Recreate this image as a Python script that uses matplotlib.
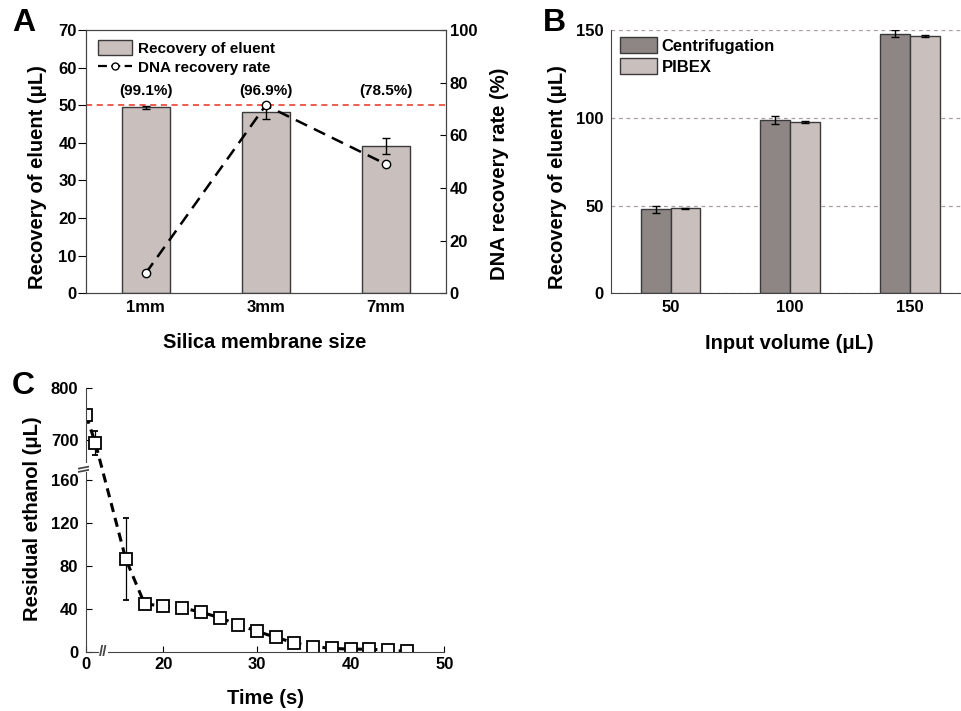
import numpy as np
import matplotlib
matplotlib.use("Agg")
import matplotlib.pyplot as plt
from matplotlib.lines import Line2D
from matplotlib.patches import Patch
from matplotlib.transforms import blended_transform_factory

plt.rcParams['font.family'] = ['Liberation Sans', 'DejaVu Sans']
plt.rcParams['font.weight'] = 'bold'
plt.rcParams['axes.labelweight'] = 'bold'
plt.rcParams['axes.edgecolor'] = '#444444'

# --- panel A: silica membrane size ---
sizes = ['1mm', '3mm', '7mm']
eluent_a = [49.4, 48.3, 39.2]
eluent_a_err = [0.3, 1.9, 2.1]
dna_rate = [7.6, 71.4, 49.1]
rate_labels = ['(99.1%)', '(96.9%)', '(78.5%)']
target_volume = 50

# --- panel B: input volume ---
input_volumes = ['50', '100', '150']
centrifugation = [48.0, 98.8, 147.9]
centrifugation_err = [2.0, 2.4, 2.0]
pibex = [48.5, 97.7, 146.4]
pibex_err = [0.3, 0.7, 0.6]

# --- panel C: residual ethanol over time ---
time_s = [0, 1, 16, 18, 20, 22, 24, 26, 28, 30, 32, 34, 36, 38, 40, 42, 44, 46]
ethanol = [748, 694, 86, 44.6, 42.3, 40.8, 36.9, 31.7, 25.0, 19.1, 13.3, 8.3,
           4.8, 3.1, 2.4, 2.3, 1.5, 0.4]
ethanol_err = [6, 24, 38, 2, 2, 1.5, 1.5, 1.5, 1.5, 1.5, 1.5, 1, 1.5, 1, 1,
               0.8, 0.6, 0.3]

BAR_LIGHT = '#C9C0BD'
BAR_DARK = '#8D8685'
EDGE = '#3a3a3a'

fig = plt.figure(figsize=(9.62, 7.11), dpi=100)

# ---------------- panel A ----------------
ax = fig.add_axes([0.0891, 0.5875, 0.3742, 0.3703])
x = np.arange(len(sizes))
ax.bar(x, eluent_a, width=0.4, color=BAR_LIGHT, edgecolor=EDGE, lw=1,
       yerr=eluent_a_err, capsize=3,
       error_kw=dict(elinewidth=1, ecolor='black', capthick=1), zorder=2)
ax.axhline(target_volume, color='#E8311F', ls=(0, (4, 3)), lw=1.1, zorder=1)
for i, lab in enumerate(rate_labels):
    ax.text(x[i], 53.9, lab, ha='center', va='center', fontsize=11)
ax.set_xlim(-0.5, 2.5)
ax.set_ylim(0, 70)
ax.set_yticks(range(0, 71, 10))
ax.set_xticks(x)
ax.set_xticklabels(sizes)
ax.tick_params(axis='y', direction='out', length=5.5, pad=1, labelsize=12)
ax.tick_params(axis='x', length=0, pad=5, labelsize=12)
ax.set_ylabel('Recovery of eluent (μL)', fontsize=14.5)
ax.yaxis.set_label_coords(-0.107, 0.443)
ax.set_xlabel('Silica membrane size', fontsize=14.5)
ax.xaxis.set_label_coords(0.498, -0.151)

ax2 = ax.twinx()
ax2.plot(x, dna_rate, color='black', ls=(0, (5, 3)), lw=1.8, marker='o',
         ms=6, mfc='white', mec='black', mew=1)
ax2.set_ylim(0, 100)
ax2.set_yticks(range(0, 101, 20))
ax2.tick_params(axis='y', direction='in', length=4, pad=3, labelsize=12)
ax2.set_ylabel('DNA recovery rate (%)', fontsize=14.5, rotation=90)
ax2.yaxis.set_label_coords(1.123, 0.453)

handles = [Patch(fc=BAR_LIGHT, ec=EDGE, lw=1),
           Line2D([], [], color='black', ls=(0, (4, 2)), lw=1.6, marker='o',
                  ms=5, mfc='white', mec='black')]
ax2.legend(handles, ['Recovery of eluent', 'DNA recovery rate'],
           loc='upper left', bbox_to_anchor=(0.034, 0.962), frameon=False,
           borderpad=0, borderaxespad=0, handlelength=2.25, handleheight=1.1,
           handletextpad=0.4, labelspacing=0.25, prop=dict(size=11, weight='bold'))
fig.text(0.0242, 0.968, 'A', fontsize=23, ha='center', va='center')

# ---------------- panel B ----------------
bx = fig.add_axes([0.6348, 0.5875, 0.3732, 0.3703])
xb = np.arange(len(input_volumes))
w = 0.25
bx.bar(xb - w / 2, centrifugation, width=w, color=BAR_DARK, edgecolor=EDGE,
       lw=1, yerr=centrifugation_err, capsize=3,
       error_kw=dict(elinewidth=1, ecolor='black', capthick=1),
       label='Centrifugation', zorder=2)
bx.bar(xb + w / 2, pibex, width=w, color=BAR_LIGHT, edgecolor=EDGE,
       lw=1, yerr=pibex_err, capsize=3,
       error_kw=dict(elinewidth=1, ecolor='black', capthick=1),
       label='PIBEX', zorder=2)
bx.set_axisbelow(True)
bx.yaxis.grid(True, ls=(0, (3, 3)), color='#a89c9c', lw=0.9)
bx.set_xlim(-0.5, 2.5)
bx.set_ylim(0, 150)
bx.set_yticks([0, 50, 100, 150])
bx.set_xticks(xb)
bx.set_xticklabels(input_volumes)
bx.tick_params(axis='y', length=0, pad=5, labelsize=12)
bx.tick_params(axis='x', length=0, pad=5, labelsize=12)
bx.spines['top'].set_visible(False)
bx.spines['right'].set_visible(False)
bx.set_ylabel('Recovery of eluent (μL)', fontsize=14.5)
bx.yaxis.set_label_coords(-0.122, 0.443)
bx.set_xlabel('Input volume (μL)', fontsize=14.5)
bx.xaxis.set_label_coords(0.497, -0.155)
bx.legend(loc='upper left', bbox_to_anchor=(0.026, 0.975), frameon=False,
          borderpad=0, borderaxespad=0, handlelength=2.2, handleheight=1.15,
          handletextpad=0.3, labelspacing=0.25, prop=dict(size=12, weight='bold'))
fig.text(0.576, 0.967, 'B', fontsize=23, ha='center', va='center')

# ---------------- panel C (broken axes) ----------------
t_in = [-100, 1.5, 14, 100]
t_out = [-100, 1.5, 2.25, 88.25]
y_in = [-1000, 170, 650, 2000]
y_out = [-1000, 170, 172.9, 172.9 + 1350 * 0.483]


def fwd_t(v):
    return np.interp(v, t_in, t_out)


def inv_t(v):
    return np.interp(v, t_out, t_in)


def fwd_y(v):
    return np.interp(v, y_in, y_out)


def inv_y(v):
    return np.interp(v, y_out, y_in)


cx = fig.add_axes([0.0894, 0.0834, 0.3725, 0.3709])
cx.set_xscale('function', functions=(fwd_t, inv_t))
cx.set_yscale('function', functions=(fwd_y, inv_y))
cx.errorbar(time_s, ethanol, yerr=ethanol_err, color='black',
            ls=(0, (3, 2)), lw=2.2, marker='s', ms=8.5, mfc='white',
            mec='black', mew=1.3, ecolor='black', elinewidth=0.9,
            capsize=2.5, capthick=0.9)
cx.set_xlim(0, 50)
cx.set_ylim(0, 800)
cx.set_xticks([0, 20, 30, 40, 50])
cx.set_yticks([0, 40, 80, 120, 160, 700, 800])
cx.minorticks_off()
cx.tick_params(direction='in', length=4.5, labelsize=12)
cx.tick_params(axis='y', pad=5.5)
cx.tick_params(axis='x', pad=4)
cx.spines['top'].set_visible(False)
cx.spines['right'].set_visible(False)
cx.set_ylabel('Residual ethanol (μL)', fontsize=14.5)
cx.yaxis.set_label_coords(-0.122, 0.506)
cx.set_xlabel('Time (s)', fontsize=14.5)
cx.xaxis.set_label_coords(0.502, -0.141)

# break marks on both axes, centred in the compressed gaps
gap_t = (t_in[1] + t_in[2]) / 2
gap_y = (y_in[1] + y_in[2]) / 2
cx.text(gap_t, 0, '//', transform=blended_transform_factory(cx.transData, cx.transAxes),
        ha='center', va='center', fontsize=11, color='#444444',
        bbox=dict(fc='white', ec='none', pad=0), clip_on=False)
cx.text(0, gap_y, '\\\\', rotation=90,
        transform=blended_transform_factory(cx.transAxes, cx.transData),
        ha='center', va='center', fontsize=11, color='#444444',
        bbox=dict(fc='white', ec='none', pad=0), clip_on=False)
fig.text(0.0242, 0.457, 'C', fontsize=23, ha='center', va='center')

fig.savefig('out.png', dpi=100)
